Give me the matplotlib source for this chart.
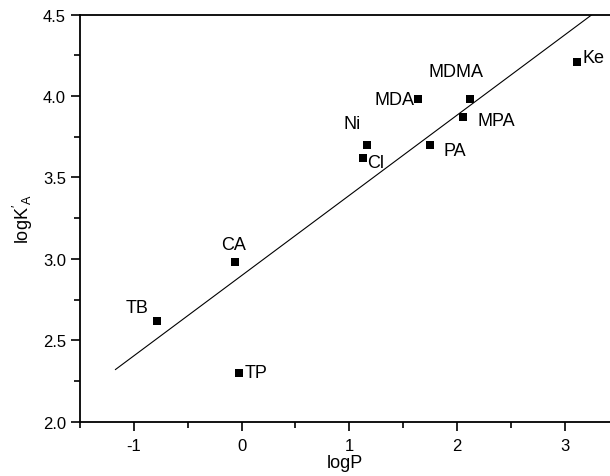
import matplotlib
matplotlib.use('Agg')
import matplotlib.pyplot as plt
from matplotlib.ticker import MultipleLocator

plt.rcParams['font.family'] = ['Liberation Sans', 'DejaVu Sans']
plt.rcParams['axes.unicode_minus'] = False

# data
names = ['TB', 'CA', 'TP', 'Ni', 'Cl', 'MDA', 'PA', 'MPA', 'MDMA', 'Ke']
logP = [-0.78, -0.06, -0.02, 1.16, 1.13, 1.64, 1.75, 2.06, 2.12, 3.11]
logKA = [2.62, 2.98, 2.30, 3.70, 3.62, 3.98, 3.70, 3.87, 3.98, 4.21]

# fitted line
fit_slope = 0.493
fit_icpt = 2.897
fit_x = [-1.17, 3.26]

# label offsets in pixels (dx, dy, ha)
offsets = {
    'TB': (-20, 13, 'center'), 'CA': (-1, 18, 'center'), 'TP': (5, 0, 'left'),
    'Ni': (-14, 21, 'center'), 'Cl': (4, -5, 'left'), 'MDA': (-4, 0, 'right'),
    'PA': (13, -6, 'left'), 'MPA': (14, -3, 'left'), 'MDMA': (-14, 28, 'center'),
    'Ke': (6, 4, 'left'),
}

fig = plt.figure(figsize=(6.1, 4.77), dpi=100)
ax = fig.add_axes([0.131, 0.114, 0.869, 0.853])

fy = [fit_icpt + fit_slope * x for x in fit_x]
ax.plot(fit_x, fy, color='black', lw=0.8)
ax.scatter(logP, logKA, s=32, marker='s', color='black', linewidths=0, zorder=3)

for n, x, y in zip(names, logP, logKA):
    dx, dy, ha = offsets[n]
    ax.annotate(n, (x, y), xytext=(dx, dy), textcoords='offset pixels',
                ha=ha, va='center', fontsize=13)

ax.set_xlim(-1.5, 3.42)
ax.set_ylim(2.0, 4.5)
ax.xaxis.set_major_locator(MultipleLocator(1))
ax.xaxis.set_minor_locator(MultipleLocator(0.5))
ax.yaxis.set_major_locator(MultipleLocator(0.5))
ax.yaxis.set_minor_locator(MultipleLocator(0.25))
ax.yaxis.set_major_formatter(matplotlib.ticker.FormatStrFormatter('%.1f'))
ax.tick_params(which='major', direction='out', length=6.5, width=1.2, labelsize=12)
ax.tick_params(axis='x', which='major', pad=5)
ax.tick_params(which='minor', direction='out', length=4, width=1.2)
ax.spines['right'].set_visible(False)
for s in ['left', 'bottom', 'top']:
    ax.spines[s].set_linewidth(1.3)

ax.set_xlabel('logP', fontsize=13, labelpad=1)
ax.set_ylabel(r"log$\mathregular{K'_A}$", fontsize=13, labelpad=6)

fig.savefig('out.png', dpi=100)
